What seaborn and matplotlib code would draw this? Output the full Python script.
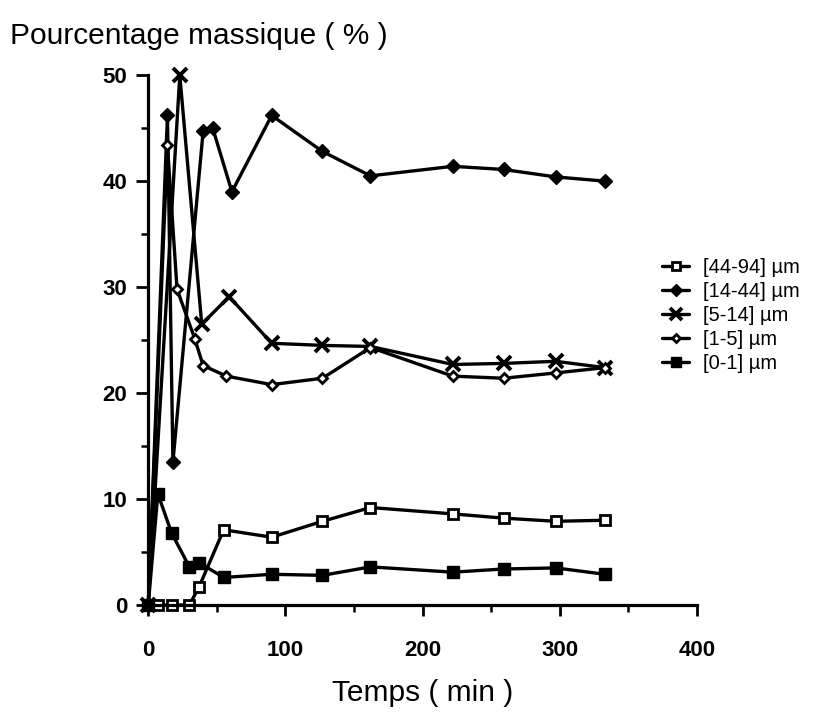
import matplotlib
matplotlib.use("Agg")
import matplotlib.pyplot as plt
import seaborn as sns
from matplotlib.ticker import MultipleLocator

# --- Données (temps en min, pourcentage massique) ---
T_44_94 = [0, 7, 17, 30, 37, 55, 90, 127, 162, 222, 259, 297, 333]
V_44_94 = [0, 0, 0, 0, 1.7, 7.1, 6.4, 7.9, 9.2, 8.6, 8.2, 7.9, 8.0]

T_14_44 = [0, 14, 18, 40, 47, 61, 90, 127, 162, 222, 259, 297, 333]
V_14_44 = [0, 46.2, 13.5, 44.7, 45.0, 39.0, 46.2, 42.8, 40.5, 41.4, 41.1, 40.4, 40.0]

T_5_14 = [0, 23, 39, 59, 90, 127, 162, 222, 259, 297, 333]
V_5_14 = [0, 50.0, 26.5, 29.1, 24.7, 24.5, 24.4, 22.7, 22.8, 23.0, 22.4]

T_1_5 = [0, 14, 21, 34, 40, 57, 90, 127, 162, 222, 259, 297, 333]
V_1_5 = [0, 43.4, 29.8, 25.1, 22.6, 21.6, 20.8, 21.4, 24.3, 21.6, 21.4, 21.9, 22.4]

T_0_1 = [0, 7, 17, 30, 37, 55, 90, 127, 162, 222, 259, 297, 333]
V_0_1 = [0, 10.5, 6.8, 3.6, 4.0, 2.6, 2.9, 2.8, 3.6, 3.1, 3.4, 3.5, 2.9]

LABELS = ["[44-94] \u00b5m", "[14-44] \u00b5m", "[5-14] \u00b5m", "[1-5] \u00b5m", "[0-1] \u00b5m"]

# style de chaque courbe : marqueur, taille, remplissage, épaisseur du bord
STYLES = [
    dict(marker="s", markersize=7.5, markerfacecolor="white", markeredgewidth=2.0),
    dict(marker="D", markersize=6.8, markerfacecolor="black", markeredgewidth=1.0),
    dict(marker="x", markersize=9.5, markerfacecolor="black", markeredgewidth=2.8),
    dict(marker="D", markersize=5.0, markerfacecolor="white", markeredgewidth=2.0),
    dict(marker="s", markersize=8.5, markerfacecolor="black", markeredgewidth=1.0),
]

sns.set_theme(style="ticks")
plt.rcParams["font.family"] = ["Liberation Sans", "DejaVu Sans"]

fig = plt.figure(figsize=(8.19, 7.16), dpi=100)
ax = fig.add_axes([0.181, 0.155, 0.670, 0.740])

series = [(T_44_94, V_44_94), (T_14_44, V_14_44), (T_5_14, V_5_14),
          (T_1_5, V_1_5), (T_0_1, V_0_1)]
for (t, v), lab, st in zip(series, LABELS, STYLES):
    sns.lineplot(x=t, y=v, ax=ax, color="black", linewidth=2.4,
                 markeredgecolor="black", label=lab, clip_on=False, **st)

ax.set_xlim(0, 400)
ax.set_ylim(0, 50)
ax.xaxis.set_major_locator(MultipleLocator(100))
ax.xaxis.set_minor_locator(MultipleLocator(50))
ax.yaxis.set_major_locator(MultipleLocator(10))
ax.yaxis.set_minor_locator(MultipleLocator(5))

sns.despine(ax=ax)
for side in ["left", "bottom"]:
    ax.spines[side].set_linewidth(2.3)
    ax.spines[side].set_color("black")

ax.tick_params(axis="both", which="major", width=2.0, color="black",
               labelsize=16, labelcolor="black")
ax.tick_params(axis="x", which="major", length=8, pad=17)
ax.tick_params(axis="y", which="major", length=9, pad=6)
ax.tick_params(axis="both", which="minor", length=5, width=1.8, color="black")
for lbl in ax.get_xticklabels() + ax.get_yticklabels():
    lbl.set_fontweight("bold")

ax.set_xlabel("Temps ( min )", fontsize=21.5, labelpad=13, color="black")
ax.set_ylabel("")
fig.text(0.012, 0.950, "Pourcentage massique ( % )", fontsize=21.5,
         ha="left", va="center", color="black")

leg = ax.legend(loc="upper left", bbox_to_anchor=(0.799, 0.651),
                bbox_transform=fig.transFigure, frameon=False, fontsize=14.5,
                handlelength=1.3, handletextpad=0.7, labelspacing=0.25,
                borderaxespad=0, markerscale=0.85)
for txt in leg.get_texts():
    txt.set_color("black")

fig.savefig("out.png", dpi=100, facecolor="white")
